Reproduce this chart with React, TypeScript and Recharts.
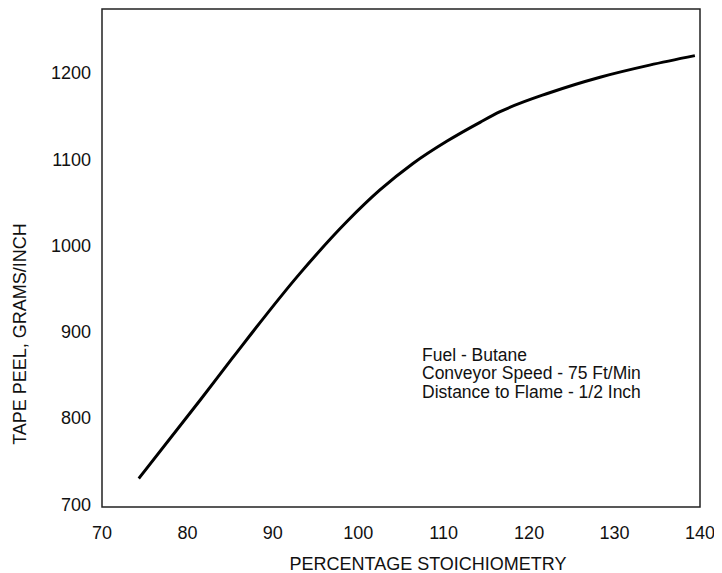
import React from 'react';
import { LineChart, Line, XAxis, YAxis, ReferenceArea, Customized } from 'recharts';

// 読み取った曲線の点 (x: % stoichiometry, y: grams/inch)
const stoich = [74.3, 81.5, 85.3, 93.2, 98.7, 102.5, 106.4, 110.4, 114.3, 116.6, 122.4, 128.3, 134.1, 139.4];
const peel = [730, 821, 870, 968, 1028, 1064, 1095, 1121, 1143, 1155, 1177, 1195, 1209, 1220];

const xTicks = [70, 80, 90, 100, 110, 120, 130, 140];
const yTicks = [700, 800, 900, 1000, 1100, 1200];

const notes = ['Fuel - Butane', 'Conveyor Speed - 75 Ft/Min', 'Distance to Flame - 1/2 Inch'];

const font = '"Liberation Sans", Arial, Helvetica, sans-serif';

const App: React.FC = () => {
    const data = stoich.map((x, i) => ({ x, y: peel[i] }));

    return (
        <div style={{ fontFamily: font }}>
            <LineChart
                width={714}
                height={565}
                data={data}
                margin={{ top: 1, right: 22, bottom: 0, left: 0 }}
            >
                <XAxis
                    type="number"
                    dataKey="x"
                    domain={[70, 140]}
                    ticks={xTicks}
                    axisLine={false}
                    tickLine={false}
                    tickMargin={13}
                    height={66}
                    tick={{ fontSize: 18, fill: '#111', fontFamily: font }}
                    label={{
                        content: ({ viewBox }: any) => (
                            <text
                                x={viewBox.x + viewBox.width / 2 + 27}
                                y={viewBox.y + viewBox.height - 3}
                                textAnchor="middle"
                                fontSize={18}
                                fill="#111"
                                fontFamily={font}
                            >
                                PERCENTAGE STOICHIOMETRY
                            </text>
                        ),
                    }}
                />
                <YAxis
                    type="number"
                    dataKey="y"
                    domain={[697, 1274]}
                    ticks={yTicks}
                    axisLine={false}
                    tickLine={false}
                    tickMargin={5}
                    width={94}
                    tick={{ fontSize: 18, fill: '#111', fontFamily: font }}
                    label={{
                        content: ({ viewBox }: any) => {
                            const cx = viewBox.x + 12;
                            const cy = viewBox.y + viewBox.height / 2 + 76;
                            return (
                                <text
                                    x={cx}
                                    y={cy}
                                    transform={`rotate(-90 ${cx} ${cy})`}
                                    textAnchor="middle"
                                    dominantBaseline="central"
                                    fontSize={18}
                                    fill="#111"
                                    fontFamily={font}
                                >
                                    TAPE PEEL, GRAMS/INCH
                                </text>
                            );
                        },
                    }}
                />
                <ReferenceArea
                    x1={70}
                    x2={140}
                    y1={697}
                    y2={1274}
                    fill="none"
                    stroke="#222"
                    strokeWidth={1.5}
                    fillOpacity={0}
                    ifOverflow="visible"
                />
                <Line
                    type="monotone"
                    dataKey="y"
                    stroke="#000"
                    strokeWidth={3}
                    dot={false}
                    isAnimationActive={false}
                />
                <Customized
                    component={() => (
                        <g>
                            {notes.map((t, i) => (
                                <text
                                    key={t}
                                    x={414}
                                    y={353 + i * 18.3}
                                    fontSize={17.5}
                                    fill="#111"
                                    fontFamily={font}
                                >
                                    {t}
                                </text>
                            ))}
                        </g>
                    )}
                />
            </LineChart>
        </div>
    );
};

export default App;
